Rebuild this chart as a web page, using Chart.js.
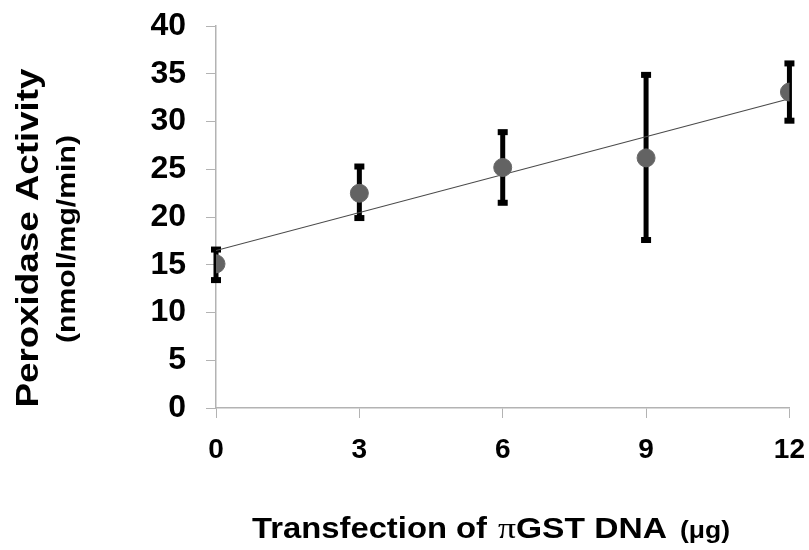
<!DOCTYPE html>
<html>
<head>
<meta charset="utf-8">
<script src="https://cdn.jsdelivr.net/npm/chart.js@4.4.1/dist/chart.umd.min.js"></script>
<style>
    html, body { margin: 0; padding: 0; background: #ffffff; }
    #wrap { width: 809px; height: 550px; overflow: hidden; }
    /* canvas is a bit bigger so the plot area lines up with the reference */
    #gstChart { display: block; margin-top: -13px; }
</style>
</head>
<body>
<div id="wrap"><canvas id="gstChart" width="820" height="563"></canvas></div>
<script>
// Data
const dnaAmounts = [0, 3, 6, 9, 12];            // ug of piGST DNA
const activity = [15.1, 22.5, 25.2, 26.2, 33.1]; // nmol/mg/min
const errLow = [13.4, 19.9, 21.5, 17.6, 30.1];
const errHigh = [16.6, 25.3, 28.9, 34.9, 36.1];
const trendX = [0, 12];
const trendY = [16.5, 32.4];
const yTicks = [0, 5, 10, 15, 20, 25, 30, 35, 40];
const xTicks = [0, 3, 6, 9, 12];

const axisGray = '#b3b3b3';
const yShift = 13; // canvas is moved up by this much

// Error bars with square caps, drawn under the markers
const errorBarPlugin = {
    id: 'errorBars',
    beforeDatasetsDraw(chart) {
        const ctx = chart.ctx;
        const xs = chart.scales.x;
        const ys = chart.scales.y;
        ctx.save();
        ctx.fillStyle = '#000000';
        dnaAmounts.forEach((x, i) => {
            const px = xs.getPixelForValue(x);
            const top = ys.getPixelForValue(errHigh[i]);
            const bot = ys.getPixelForValue(errLow[i]);
            ctx.fillRect(px - 2.5, top, 5, bot - top);
            ctx.fillRect(px - 5, top - 3, 10, 6);
            ctx.fillRect(px - 5, bot - 3, 10, 6);
        });
        ctx.restore();
    }
};

// Draw text stretched along its length to a target width
function drawFitted(ctx, text, x, y, font, targetWidth, align) {
    ctx.font = font;
    const w = ctx.measureText(text).width;
    const sx = targetWidth / w;
    ctx.save();
    ctx.translate(x, y);
    ctx.scale(sx, 1);
    ctx.textAlign = align;
    ctx.fillText(text, 0, 0);
    ctx.restore();
    return w * sx;
}

// Axis titles (two fonts each, so drawn by hand)
const titlePlugin = {
    id: 'axisTitles',
    afterDraw(chart) {
        const ctx = chart.ctx;
        ctx.save();
        ctx.fillStyle = '#000000';
        ctx.textBaseline = 'middle';

        // y title, rotated
        ctx.save();
        ctx.translate(29, 238 + yShift);
        ctx.rotate(-Math.PI / 2);
        drawFitted(ctx, 'Peroxidase Activity', 0, 0, 'bold 32px "Liberation Sans", Arial, sans-serif', 339, 'center');
        ctx.restore();

        ctx.save();
        ctx.translate(68, 239 + yShift);
        ctx.rotate(-Math.PI / 2);
        drawFitted(ctx, '(nmol/mg/min)', 0, 0, 'bold 25px "Liberation Sans", Arial, sans-serif', 208, 'center');
        ctx.restore();

        // x title
        ctx.textBaseline = 'alphabetic';
        const base = 538 + yShift;
        drawFitted(ctx, 'Transfection of', 252, base, 'bold 30px "Liberation Sans", Arial, sans-serif', 235, 'left');
        let x = 498;
        x += drawFitted(ctx, '\u03c0', x, base, '29px "Liberation Serif", "DejaVu Serif", serif', 18, 'left');
        drawFitted(ctx, 'GST DNA', x, base, 'bold 30px "Liberation Sans", Arial, sans-serif', 667 - x, 'left');
        drawFitted(ctx, '(\u03bcg)', 680, base, 'bold 24px "Liberation Sans", Arial, sans-serif', 50, 'left');
        ctx.restore();
    }
};

function renderChart() {
    const ctx = document.getElementById('gstChart').getContext('2d');
    new Chart(ctx, {
        type: 'scatter',
        data: {
            datasets: [{
                label: 'Peroxidase activity',
                data: dnaAmounts.map((x, i) => ({ x: x, y: activity[i] })),
                pointRadius: 9,
                pointBackgroundColor: '#636363',
                pointBorderColor: '#6a6a6a',
                pointBorderWidth: 1,
                showLine: false
            }, {
                label: 'Trend',
                data: trendX.map((x, i) => ({ x: x, y: trendY[i] })),
                showLine: true,
                borderColor: '#4a4a4a',
                borderWidth: 1.2,
                pointRadius: 0
            }]
        },
        options: {
            responsive: false,
            animation: false,
            layout: {
                padding: { left: 0, right: 9, top: 12, bottom: 0 }
            },
            plugins: {
                legend: { display: false },
                tooltip: { enabled: false }
            },
            scales: {
                x: {
                    type: 'linear',
                    min: 0,
                    max: 12,
                    afterBuildTicks: scale => {
                        scale.ticks = xTicks.map(v => ({ value: v }));
                    },
                    afterFit: scale => { scale.height = 142; },
                    grid: {
                        drawOnChartArea: false,
                        drawTicks: true,
                        tickLength: 10,
                        color: axisGray
                    },
                    border: { color: axisGray, width: 1.5 },
                    ticks: {
                        color: '#000000',
                        padding: 15,
                        maxRotation: 0,
                        font: { family: '"Liberation Sans", Arial, sans-serif', size: 28, weight: 'bold' }
                    }
                },
                y: {
                    min: 0,
                    max: 40,
                    afterBuildTicks: scale => {
                        scale.ticks = yTicks.map(v => ({ value: v }));
                    },
                    afterFit: scale => { scale.width = 216; },
                    grid: {
                        drawOnChartArea: false,
                        drawTicks: true,
                        tickLength: 10,
                        color: axisGray
                    },
                    border: { color: axisGray, width: 1.5 },
                    ticks: {
                        color: '#000000',
                        padding: 20,
                        font: { family: '"Liberation Sans", Arial, sans-serif', size: 32, weight: 'bold' }
                    }
                }
            }
        },
        plugins: [errorBarPlugin, titlePlugin]
    });
}

renderChart();
</script>
</body>
</html>
